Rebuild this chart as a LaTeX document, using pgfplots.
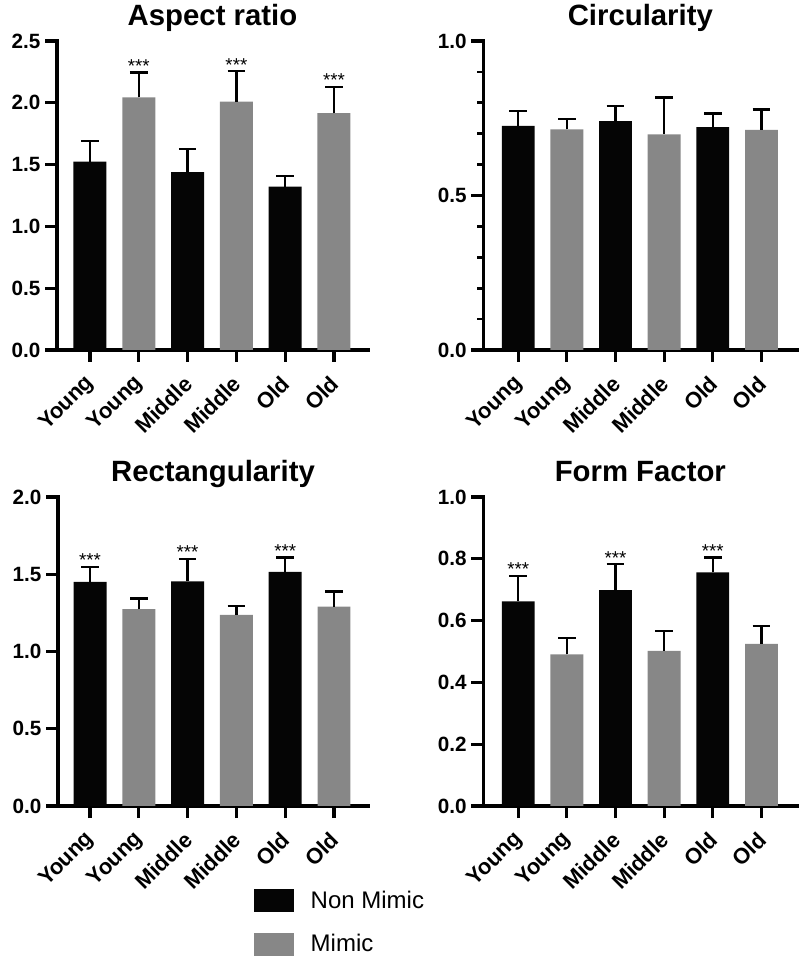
\documentclass[border=0pt]{standalone}
\usepackage{pgfplots}
\pgfplotsset{compat=1.18}
\usepackage{pgfplotstable}
\usepackage{fontspec}
\setmainfont{Liberation Sans}

\definecolor{nm}{gray}{0.02}
\definecolor{mm}{gray}{0.53}

% Aspect ratio
\pgfplotstableread{
x y e
0 1.523 0.165
2 1.440 0.184
4 1.321 0.089
}\tAnm
\pgfplotstableread{
x y e
1 2.044 0.202
3 2.009 0.248
5 1.917 0.211
}\tAm
% Circularity
\pgfplotstableread{
x y e
0 0.725 0.048
2 0.741 0.049
4 0.721 0.044
}\tBnm
\pgfplotstableread{
x y e
1 0.714 0.034
3 0.698 0.119
5 0.712 0.066
}\tBm
% Rectangularity
\pgfplotstableread{
x y e
0 1.450 0.099
2 1.454 0.145
4 1.515 0.093
}\tCnm
\pgfplotstableread{
x y e
1 1.275 0.068
3 1.237 0.056
5 1.291 0.097
}\tCm
% Form factor
\pgfplotstableread{
x y e
0 0.662 0.083
2 0.699 0.083
4 0.756 0.048
}\tDnm
\pgfplotstableread{
x y e
1 0.491 0.052
3 0.502 0.064
5 0.525 0.057
}\tDm

\tikzset{stars/.style={font=\fontsize{14}{15}\selectfont, anchor=base, inner sep=0pt}}

\pgfplotsset{
 panel/.style={
  scale only axis, anchor=south west,
  axis x line*=bottom, axis y line*=left,
  axis line style={-, line width=2.4pt, line cap=rect},
  tick style={black, line width=2.4pt},
  minor tick style={black, line width=2pt},
  tick align=outside,
  major tick length=9pt, minor tick length=4.5pt,
  ymin=0,
  xtick={0,...,5},
  xticklabels={Young,Young,Middle,Middle,Old,Old},
  xticklabel style={xshift=3pt, yshift=-11pt, rotate=45, anchor=east, font=\bfseries\fontsize{16.5}{18}\selectfont},
  yticklabel style={font=\bfseries\fontsize{15.5}{17}\selectfont, /pgf/number format/.cd, fixed, fixed zerofill, precision=1, /tikz/.cd},
  /pgf/number format/assume math mode=true,
  title style={at={(0.5,1)}, anchor=base, yshift=5.25pt, font=\bfseries\fontsize{22}{25}\selectfont},
  height=231.75pt,
  clip=false,
 },
 bars/.style={ybar, bar width=0.676, bar shift=0pt, draw=none, fill=#1,
   error bars/.cd, y dir=plus, y explicit,
   error bar style={line width=1.7pt, black},
   error mark options={rotate=90, line width=1.7pt, black, mark size=6.6pt},
   /pgfplots/.cd},
}

\begin{document}
\begin{tikzpicture}
\useasboundingbox (0,0) rectangle (600pt,721.5pt);

% Panel 1: Aspect ratio
\begin{axis}[panel, at={(42.75pt,459pt)}, width=233.25pt,
  xmin=-0.676, xmax=5.697, ymax=2.5, ytick={0,0.5,...,2.5},
  title={Aspect ratio}]
\addplot[bars=nm] table[x=x, y=y, y error=e] {\tAnm};
\addplot[bars=mm] table[x=x, y=y, y error=e] {\tAm};
\node[stars] at (axis cs:1,2.246) {***};
\node[stars] at (axis cs:3,2.257) {***};
\node[stars] at (axis cs:5,2.128) {***};
\end{axis}

% Panel 2: Circularity
\begin{axis}[panel, at={(362.5pt,459pt)}, width=235.5pt,
  xmin=-0.717, xmax=5.738, ymax=1.0, ytick={0,0.5,1.0}, minor y tick num=4,
  title={Circularity}]
\addplot[bars=nm] table[x=x, y=y, y error=e] {\tBnm};
\addplot[bars=mm] table[x=x, y=y, y error=e] {\tBm};
\end{axis}

% Panel 3: Rectangularity
\begin{axis}[panel, at={(43.5pt,117pt)}, width=232.5pt,
  xmin=-0.656, xmax=5.697, ymax=2.0, ytick={0,0.5,...,2.0},
  title={Rectangularity},
  legend style={at={(axis description cs:0.632,-0.2686)}, anchor=north west,
    draw=none, fill=none, inner sep=0pt, row sep=15.75pt, column sep=12.75pt,
    font=\fontsize{18}{21}\selectfont,
    nodes={inner sep=0pt}},
  legend cell align=left]
\addplot[bars=nm, forget plot] table[x=x, y=y, y error=e] {\tCnm};
\addplot[bars=mm, forget plot] table[x=x, y=y, y error=e] {\tCm};
\node[stars] at (axis cs:0,1.549) {***};
\node[stars] at (axis cs:2,1.599) {***};
\node[stars] at (axis cs:4,1.608) {***};
\addlegendimage{legend image code/.code={\fill[nm] (0pt,-8.25pt) rectangle (29.25pt,8.25pt);}}
\addlegendentry{Non Mimic}
\addlegendimage{legend image code/.code={\fill[mm] (0pt,-8.25pt) rectangle (29.25pt,8.25pt);}}
\addlegendentry{Mimic}
\end{axis}

% Panel 4: Form Factor
\begin{axis}[panel, at={(362.5pt,117pt)}, width=235.5pt,
  xmin=-0.717, xmax=5.738, ymax=1.0, ytick={0,0.2,...,1.0},
  title={Form Factor}]
\addplot[bars=nm] table[x=x, y=y, y error=e] {\tDnm};
\addplot[bars=mm] table[x=x, y=y, y error=e] {\tDm};
\node[stars] at (axis cs:0,0.745) {***};
\node[stars] at (axis cs:2,0.782) {***};
\node[stars] at (axis cs:4,0.804) {***};
\end{axis}
\end{tikzpicture}
\end{document}
